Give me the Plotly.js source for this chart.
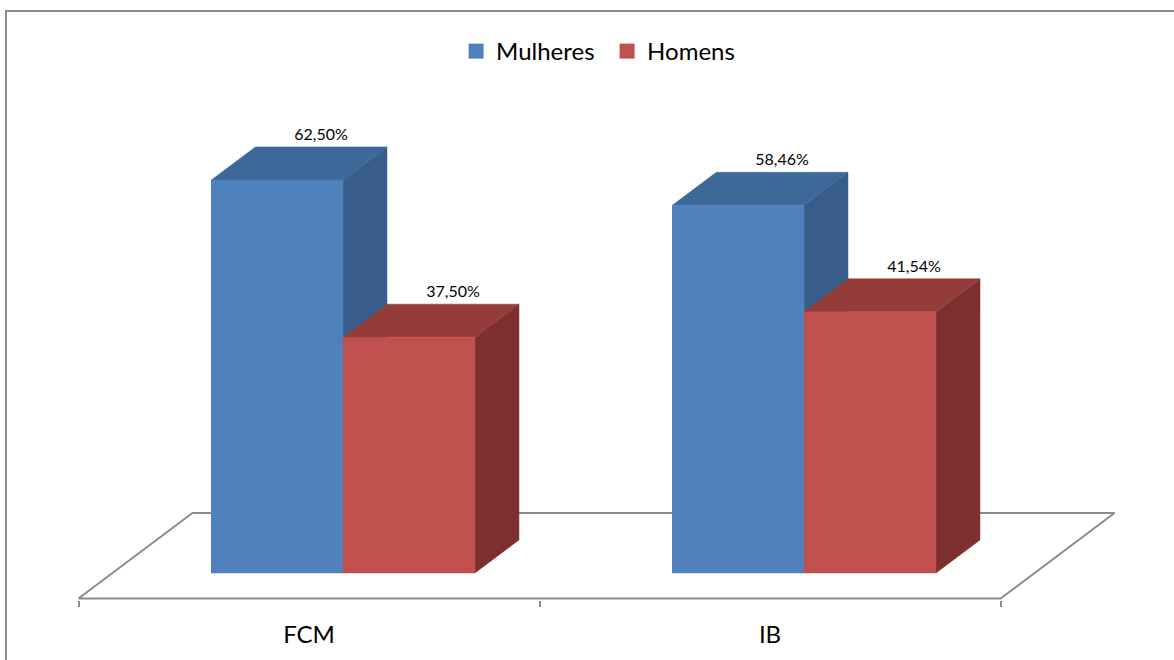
<!DOCTYPE html>
<html><head><meta charset="utf-8">
<script src="https://cdn.plot.ly/plotly-3.0.1.min.js"></script>
<style>html,body{margin:0;padding:0;background:#fff}</style>
</head><body><div id="chart" style="width:1174px;height:660px"></div>
<script>
// ---- data ----
const categories = ['FCM', 'IB'];
const seriesNames = ['Mulheres', 'Homens'];
const mulheres = [62.50, 58.46];
const homens = [37.50, 41.54];

// ---- styling / projection constants ----
const BAR_W = 0.2863;        // bar width in category units
const DX = 0.09544;          // depth shift (x, category units) per bar depth
const DY = 5.2464;           // depth shift (y, value units) per bar depth
const FLOOR_FRONT = -0.7727; // floor depth (front) in bar-depth units
const FLOOR_BACK = 1.818;    // floor depth (back)
const LABEL_LIFT = 0.45;     // extra gap above bar top for labels (value units)
const colors = {
  Mulheres: {front: '#4F81BD', top: '#3D6898', side: '#385D8A'},
  Homens:   {front: '#C0504D', top: '#943C3A', side: '#7D302F'}
};
const FONT = 'Lato, "Open Sans", sans-serif';

function pt(c, v, d) { return [c + d * DX, v + d * DY]; }
function poly(points) {
  const xs = [], ys = [];
  points.forEach(p => { const q = pt(p[0], p[1], p[2]); xs.push(q[0]); ys.push(q[1]); });
  return {x: xs, y: ys};
}
function face(points, color) {
  const p = poly(points);
  return {type: 'scatter', mode: 'lines', x: p.x, y: p.y, fill: 'toself',
    fillcolor: color, line: {color: color, width: 0.5}, hoverinfo: 'skip', showlegend: false};
}
function fmt(v) { return v.toFixed(2).replace('.', ',') + '%'; }

const traces = [];
// floor
const fl = poly([[-0.5, 0, FLOOR_FRONT], [categories.length - 0.5, 0, FLOOR_FRONT],
                 [categories.length - 0.5, 0, FLOOR_BACK], [-0.5, 0, FLOOR_BACK], [-0.5, 0, FLOOR_FRONT]]);
traces.push({type: 'scatter', mode: 'lines', x: fl.x, y: fl.y, fill: 'toself', fillcolor: '#ffffff',
  line: {color: '#8c8c8c', width: 2}, hoverinfo: 'skip', showlegend: false});

const series = [mulheres, homens];
const labX = [], labY = [], labT = [];
categories.forEach((cat, i) => {
  series.forEach((vals, s) => {
    const v = vals[i];
    const col = colors[seriesNames[s]];
    const c0 = i - BAR_W + s * BAR_W, c1 = c0 + BAR_W;
    traces.push(face([[c1, 0, 0], [c1, 0, 1], [c1, v, 1], [c1, v, 0]], col.side));
    traces.push(face([[c0, v, 0], [c1, v, 0], [c1, v, 1], [c0, v, 1]], col.top));
    traces.push(face([[c0, 0, 0], [c1, 0, 0], [c1, v, 0], [c0, v, 0]], col.front));
    const lp = pt((c0 + c1) / 2, v, 1);
    labX.push(lp[0]); labY.push(lp[1] + LABEL_LIFT); labT.push(fmt(v));
  });
});
traces.push({type: 'scatter', mode: 'text', x: labX, y: labY, text: labT,
  textposition: 'top center', textfont: {family: FONT, size: 16, color: '#000'},
  hoverinfo: 'skip', showlegend: false, cliponaxis: false});
// legend entries
seriesNames.forEach(name => {
  traces.push({type: 'scatter', mode: 'markers', x: [null], y: [null], name: name,
    marker: {symbol: 'square', size: 15, color: colors[name].front}});
});

const tickPos = categories.map((c, i) => i + FLOOR_FRONT * DX);
const minorPos = [];
for (let k = 0; k <= categories.length; k++) minorPos.push(k - 0.5 + FLOOR_FRONT * DX);

const layout = {
  width: 1174, height: 660,
  margin: {l: 0, r: 0, t: 0, b: 60},
  paper_bgcolor: '#ffffff', plot_bgcolor: 'rgba(0,0,0,0)',
  showlegend: true,
  xaxis: {range: [-0.74403, 1.80260], showgrid: false, zeroline: false, showline: false,
    tickmode: 'array', tickvals: tickPos, ticktext: categories, ticks: '',
    ticklabelstandoff: 18,
    tickfont: {family: FONT, size: 24, color: '#000'},
    minor: {tickmode: 'array', tickvals: minorPos, ticks: 'outside', ticklen: 6, tickwidth: 2,
      tickcolor: '#8c8c8c', showgrid: false},
    fixedrange: true},
  yaxis: {range: [-4.2925, 91.097], visible: false, fixedrange: true},
  legend: {orientation: 'h', x: 0.3885, xanchor: 'left', y: 0.91417, yanchor: 'middle',
    font: {family: FONT, size: 24, color: '#000'}, entrywidth: 106, bgcolor: 'rgba(0,0,0,0)'},
  shapes: [{type: 'rect', xref: 'paper', yref: 'paper', x0: 6 / 1174, x1: 1.05, y0: -0.3, y1: (600 - 11) / 600,
    line: {color: '#8c8c8c', width: 2}, fillcolor: 'rgba(0,0,0,0)'}]
};
Plotly.newPlot('chart', traces, layout, {displayModeBar: false, staticPlot: true});
</script></body></html>
